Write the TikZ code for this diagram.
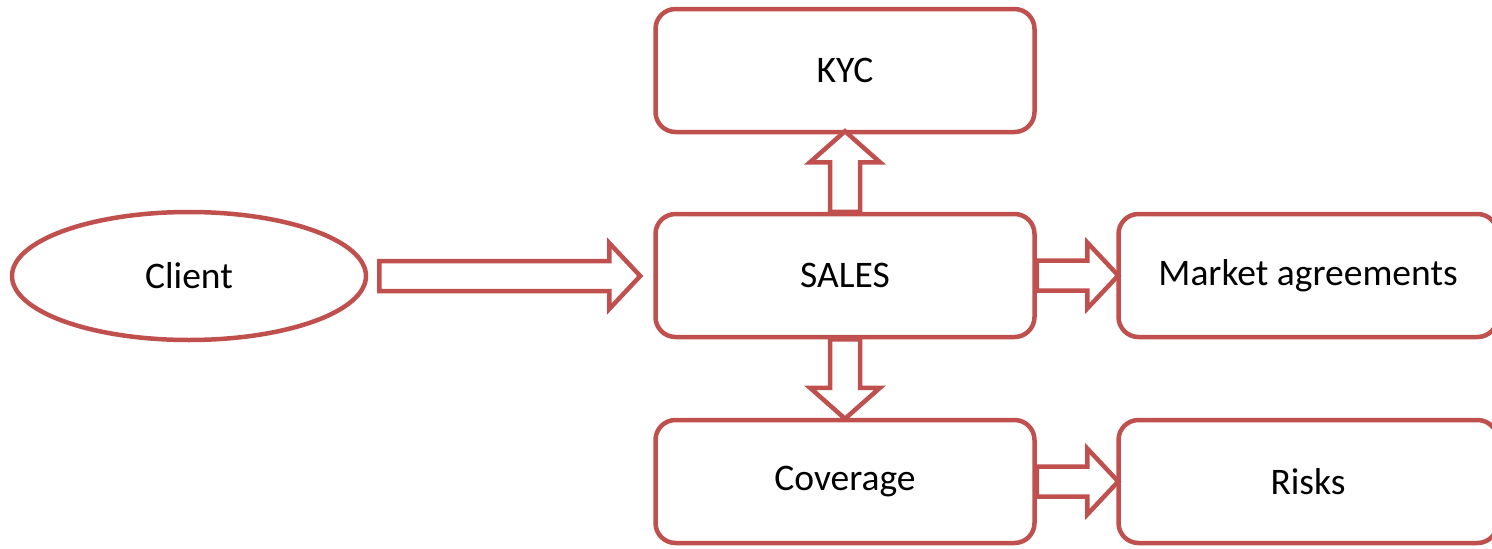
\documentclass[tikz,border=0pt]{standalone}
\usepackage{fontspec}
\setmainfont{Carlito}
\usetikzlibrary{shapes.geometric,calc}
\definecolor{accred}{HTML}{C0504D}
% horizontal block arrow: #1 start, #2 tip
\newcommand{\hblockarrow}[2]{%
  \draw[blk] let \p1=(#1), \p2=(#2) in
    (\x1,\y1+15pt) -- (\x2-31pt,\y1+15pt) -- (\x2-31pt,\y1+33pt) -- (\x2,\y1)
    -- (\x2-31pt,\y1-33pt) -- (\x2-31pt,\y1-15pt) -- (\x1,\y1-15pt) -- cycle;}
% vertical block arrow: #1 start, #2 tip
\newcommand{\vblockarrow}[2]{%
  \draw[blk] let \p1=(#1), \p2=(#2), \n1={sign(\y2-\y1)} in
    (\x1-15pt,\y1) -- (\x1-15pt,\y2-\n1*31pt) -- (\x1-35pt,\y2-\n1*31pt) -- (\x1,\y2)
    -- (\x1+35pt,\y2-\n1*31pt) -- (\x1+15pt,\y2-\n1*31pt) -- (\x1+15pt,\y1) -- cycle;}
\begin{document}
\begin{tikzpicture}[x=1pt,y=1pt,
  lbl/.style={font=\fontsize{37.5}{45}\selectfont, text=black},
  box/.style={lbl, draw=accred, line width=4.5pt, rounded corners=20pt, fill=white,
    minimum width=379pt, minimum height=123pt, inner sep=0pt},
  oval/.style={lbl, ellipse, draw=accred, line width=4.5pt, fill=white,
    minimum width=354pt, minimum height=128pt, inner sep=0pt},
  blk/.style={draw=accred, line width=4.5pt, fill=white, line join=miter}
]
\useasboundingbox (0,0) rectangle (1492,-549);
\begin{scope}
\clip (0,0) rectangle (1492,-549);
\node[oval] (client) at (189,-276) {Client};
\node[box] (kyc) at (845,-70.5) {KYC};
\node[box] (sales) at (845,-275.5) {SALES};
\node[box] (coverage) at (845,-481.5) {Coverage};
\node[box] (market) at (1308,-275.5) {Market agreements};
\node[box] (risks) at (1308,-481.5) {Risks};

\hblockarrow{$(client.east)+(11,0)$}{$(sales.west)+(-13,0)$}
\vblockarrow{sales.north}{$(kyc.south)+(0,3)$}
\vblockarrow{sales.south}{$(coverage.north)+(0,-1)$}
\hblockarrow{sales.east}{$(market.west)+(2,0)$}
\hblockarrow{coverage.east}{$(risks.west)+(2,0)$}
\end{scope}
\end{tikzpicture}
\end{document}
